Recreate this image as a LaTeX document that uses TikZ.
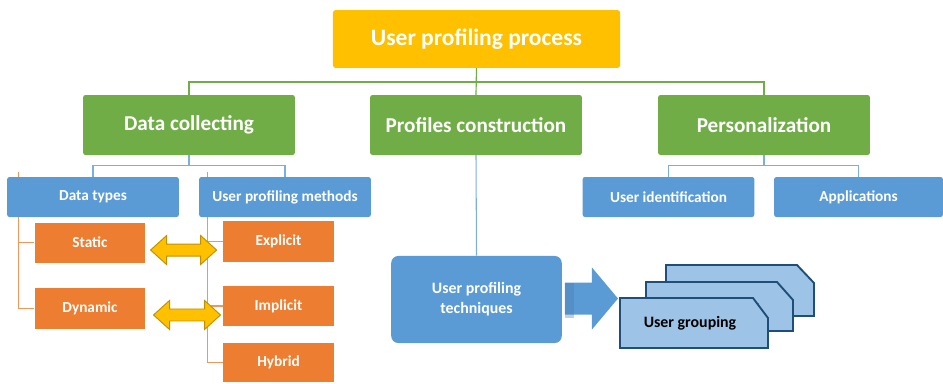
\documentclass[tikz,border=0pt]{standalone}
\usepackage{fontspec}
\setmainfont{Carlito}
\usepackage{xcolor}
\usetikzlibrary{positioning,backgrounds}

\definecolor{amarillo}{HTML}{FFC000}
\definecolor{amarilloosc}{HTML}{BF9000}
\definecolor{verde}{HTML}{70AD47}
\definecolor{azul}{HTML}{5B9BD5}
\definecolor{azulclaro}{HTML}{9DC3E6}
\definecolor{azulosc}{HTML}{1F4E79}
\definecolor{naranja}{HTML}{ED7D31}

\begin{document}
\begin{tikzpicture}[x=0.85pt,y=-0.85pt,
    caja/.style={rectangle, rounded corners=2pt, inner sep=0pt, text=white, font=\bfseries},
    titulo/.style={caja, fill=amarillo, minimum width=244pt, minimum height=49pt, font=\bfseries\fontsize{20}{22}\selectfont},
    rama/.style={caja, fill=verde, minimum width=180pt, minimum height=51pt, font=\bfseries\fontsize{18}{20}\selectfont},
    hoja/.style={caja, fill=azul, minimum width=146pt, minimum height=34pt, font=\bfseries\fontsize{13}{15}\selectfont},
    tipo/.style={caja, rounded corners=0pt, fill=naranja, minimum width=94pt, minimum height=34pt, font=\bfseries\fontsize{13}{15}\selectfont},
    lverde/.style={draw=verde, line width=1pt},
    lazul/.style={draw=azul!80, line width=0.9pt},
    lnaranja/.style={draw=naranja!80, line width=0.9pt},
    doble/.style={fill=amarillo, draw=amarilloosc, line width=0.8pt, line join=miter},
    tarjeta/.style={fill=azulclaro, draw=azulosc, line width=1.6pt, line join=miter}]
    % Proceso de perfilado de usuario
    \useasboundingbox (0,0) rectangle (943,383);

    \node[titulo] (process) at (476.5,39) {User profiling process};
    \node[rama] (collect) at (189,125) {Data collecting};
    \node[rama] (construct) at (476,125) {Profiles construction};
    \node[rama] (perso) at (764,125) {Personalization};

    \node[hoja] (types) at (93,197) {Data types};
    \node[hoja] (methods) at (285,197) {User profiling methods};
    \node[hoja] (ident) at (668.5,197) {User identification};
    \node[hoja, minimum width=143.5pt] (apps) at (858.5,197) {Applications};

    \node[tipo] (static) at (90,242.5) {Static};
    \node[tipo, minimum height=35pt] (dynamic) at (90,308.5) {Dynamic};
    \node[tipo, minimum height=35pt] (explicit) at (278.5,241.5) {Explicit};
    \node[tipo] (implicit) at (278.5,306) {Implicit};
    \node[tipo, minimum height=33pt] (hybrid) at (278.5,362.5) {Hybrid};

    \node[caja, fill=azul, rounded corners=6pt, minimum width=145pt, minimum height=74pt,
          align=center, font=\bfseries\fontsize{13.5}{17}\selectfont] (tech) at (476.5,299.5)
          {User profiling\\techniques};

    % conectores del arbol
    \draw[lverde] (process.south) -- ++(0,14) -| (collect.north);
    \draw[lverde] (process.south) -- ++(0,14) -| (perso.north);
    \draw[lverde] (process.south) -- (construct.north);

    \draw[lazul] (collect.south) -- ++(0,10) -| (types.north);
    \draw[lazul] (collect.south) -- ++(0,10) -| (methods.north);
    \draw[lazul] (perso.south) -- ++(0,10) -| (ident.north);
    \draw[lazul] (perso.south) -- ++(0,10) -| (apps.north);
    \draw[lazul] (construct.south) -- (tech.north);

    \begin{scope}[on background layer]
        \draw[lnaranja] ([xshift=10.2pt,yshift=4pt]types.north west) |- (static.west);
        \draw[lnaranja] ([xshift=10.2pt,yshift=4pt]types.north west) |- (dynamic.west);
        \draw[lnaranja] ([xshift=7.6pt,yshift=4pt]methods.north west) |- (explicit.west);
        \draw[lnaranja] ([xshift=7.6pt,yshift=4pt]methods.north west) |- (implicit.west);
        \draw[lnaranja] ([xshift=7.6pt,yshift=4pt]methods.north west) |- (hybrid.west);
    \end{scope}

    % flechas dobles entre tipos y metodos
    \draw[doble] ([xshift=4.3pt,yshift=-6.4pt]static.east) -- ++(16,-14.5) -- ++(0,8.5) -- ++(34,0)
        -- ++(0,-8.5) -- ++(16,14.5) -- ++(-16,14.5) -- ++(0,-8.5) -- ++(-34,0) -- ++(0,8.5) -- cycle;
    \draw[doble] ([xshift=6.8pt,yshift=-5.5pt]dynamic.east) -- ++(16,-14.5) -- ++(0,8.5) -- ++(35,0)
        -- ++(0,-8.5) -- ++(16,14.5) -- ++(-16,14.5) -- ++(0,-8.5) -- ++(-35,0) -- ++(0,8.5) -- cycle;

    % flecha hacia los grupos
    \fill[azul] ([xshift=2.5pt]tech.east) ++(0,-17) -- ++(27,0) -- ++(0,-15) -- ++(26,31)
        -- ++(-26,31) -- ++(0,-15) -- ++(-27,0) -- cycle;
    \fill[azul!80!black, opacity=0.35] ([xshift=2.5pt]tech.east) ++(0,-17) rectangle ++(9,35);

    % tarjetas apiladas
    \draw[tarjeta] (666,265) -- (797,265) -- (814,283) -- (814,316) -- (666,316) -- cycle;
    \draw[tarjeta] (646,282) -- (777,282) -- (793,300) -- (793,331) -- (646,331) -- cycle;
    \node[font=\bfseries\fontsize{13.5}{15}\selectfont] (group2) at (713,307) {User grouping};
    \draw[tarjeta] (620,298) -- (753,298) -- (768,318) -- (768,348) -- (620,348) -- cycle;
    \node[font=\bfseries\fontsize{13.5}{15}\selectfont] (group) at (690,323) {User grouping};
\end{tikzpicture}
\end{document}
